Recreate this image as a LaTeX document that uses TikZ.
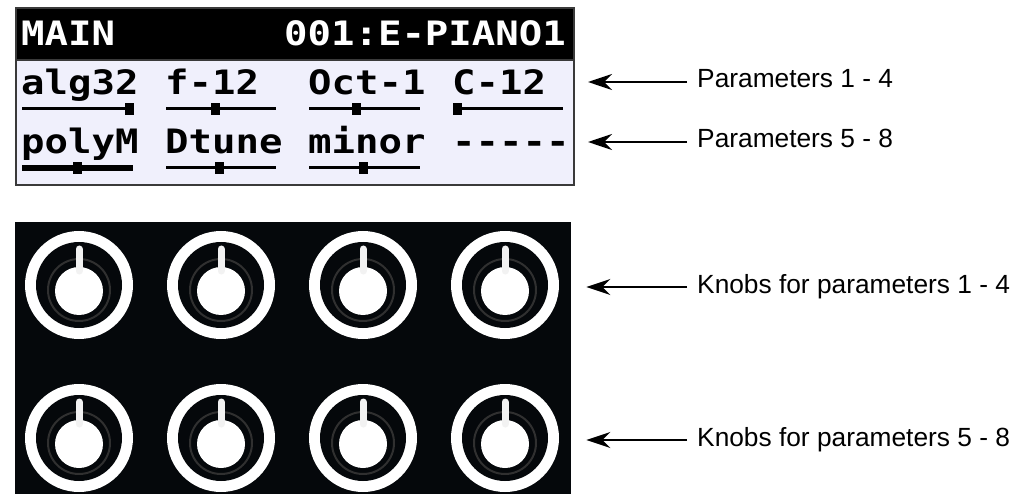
\documentclass[tikz,border=0pt]{standalone}
\usepackage{fontspec}
\setmainfont{Liberation Sans}
\newfontfamily\lcdfont[FakeStretch=1.16,Ligatures=TeXOff]{DejaVu Sans Mono}
\usetikzlibrary{arrows.meta,calc,positioning}
\definecolor{panel}{HTML}{05080B}
\definecolor{screenbg}{HTML}{F0F0FC}
\definecolor{frame}{HTML}{3A3A3A}
\definecolor{ridge}{HTML}{303030}
\tikzset{
  screen/.style={
    draw=frame,
    line width=2pt,
    fill=screenbg,
    inner sep=0pt,
    anchor=north west,
    minimum width=558pt,
    minimum height=177pt
  },
  header/.style={
    screen,
    fill=black,
    minimum height=52pt
  },
  lcd/.style={
    inner sep=0pt,
    anchor=base west,
    text=black,
    font=\lcdfont\bfseries\fontsize{33.6}{40}\selectfont
  },
  headtext/.style={
    lcd,
    text=white
  },
  track/.style={
    draw=black,
    line width=3pt
  },
  selected/.style={
    track,
    line width=6pt
  },
  thumb/.style={
    fill=black,
    inner sep=0pt,
    minimum width=9pt,
    minimum height=12pt
  },
  panel/.style={
    fill=panel,
    inner sep=0pt,
    anchor=north west,
    minimum width=556pt,
    minimum height=272pt
  },
  knob/.pic={
    \fill[white] (0,0) circle[radius=54pt];
    \fill[panel] (0,0) circle[radius=43pt];
    \draw[ridge, line width=2pt] (0,5) circle[radius=31pt];
    \fill[white] (0,6) circle[radius=24pt];
    \draw[white!90!gray, line width=7pt, line cap=round] (0,-36) -- (0,-14);
  },
  note/.style={
    inner sep=0pt,
    anchor=west,
    text height=19pt,
    text depth=7pt,
    text=black,
    font=\fontsize{26.3}{30}\selectfont
  },
  pointer/.style={
    -{Stealth[length=24pt,width=16pt,inset=8pt]},
    draw=black,
    line width=2.2pt
  }
}

\begin{document}
\begin{tikzpicture}[x=1pt, y=-1pt]
  \useasboundingbox (0,0) rectangle (1035,494);

  % display
  \node[screen] (screen) at (15,7) {};
  \node[header] (header) at (15,7) {};
  \node[headtext] (mode) at (21,46) {MAIN};
  \node[headtext] (patch) at (284,46) {001:E-PIANO1};

  % parameters 1 - 4
  \node[lcd] (alg) at (21,95) {alg32};
  \node[lcd] (filt) at (165,95) {f-12};
  \node[lcd] (oct) at (308,95) {Oct-1};
  \node[lcd] (coarse) at (452,95) {C-12};
  \draw[track] (22,108.5) -- (133,108.5);
  \draw[track] (166,108.5) -- (276,108.5);
  \draw[track] (309,108.5) -- (420,108.5);
  \draw[track] (453,108.5) -- (563,108.5);
  \node[thumb] (algpos) at (129.5,109) {};
  \node[thumb] (filtpos) at (215,109) {};
  \node[thumb] (octpos) at (356,109) {};
  \node[thumb] (coarsepos) at (457.5,109) {};

  % parameters 5 - 8
  \node[lcd] (poly) at (21,154) {polyM};
  \node[lcd] (detune) at (165,154) {Dtune};
  \node[lcd] (scale) at (308,154) {minor};
  \node[lcd] (empty) at (452,154) {-----};
  \draw[selected] (22,168) -- (133,168);
  \draw[track] (166,168) -- (276,168);
  \draw[track] (309,168) -- (420,168);
  \node[thumb] (polypos) at (77,168) {};
  \node[thumb] (detunepos) at (219.5,168) {};
  \node[thumb] (scalepos) at (363,168) {};

  % knobs
  \node[panel] (knobs) at (15,222) {};
  \pic (k1) at (79,285) {knob};
  \pic (k2) at (221,285) {knob};
  \pic (k3) at (363,285) {knob};
  \pic (k4) at (505,285) {knob};
  \pic (k5) at (79,438) {knob};
  \pic (k6) at (221,438) {knob};
  \pic (k7) at (363,438) {knob};
  \pic (k8) at (505,438) {knob};

  % notes
  \node[note] (row1) at (697,82) {Parameters 1 - 4};
  \node[note] (row2) at (697,142) {Parameters 5 - 8};
  \node[note] (knobrow1) at (697,287) {Knobs for parameters 1 - 4};
  \node[note] (knobrow2) at (697,440) {Knobs for parameters 5 - 8};

  \draw[pointer] ([xshift=-10pt]row1.west) -- ([xshift=13pt]screen.east |- row1.west);
  \draw[pointer] ([xshift=-10pt]row2.west) -- ([xshift=13pt]screen.east |- row2.west);
  \draw[pointer] ([xshift=-10pt]knobrow1.west) -- ([xshift=15pt]knobs.east |- knobrow1.west);
  \draw[pointer] ([xshift=-10pt]knobrow2.west) -- ([xshift=15pt]knobs.east |- knobrow2.west);
\end{tikzpicture}
\end{document}
